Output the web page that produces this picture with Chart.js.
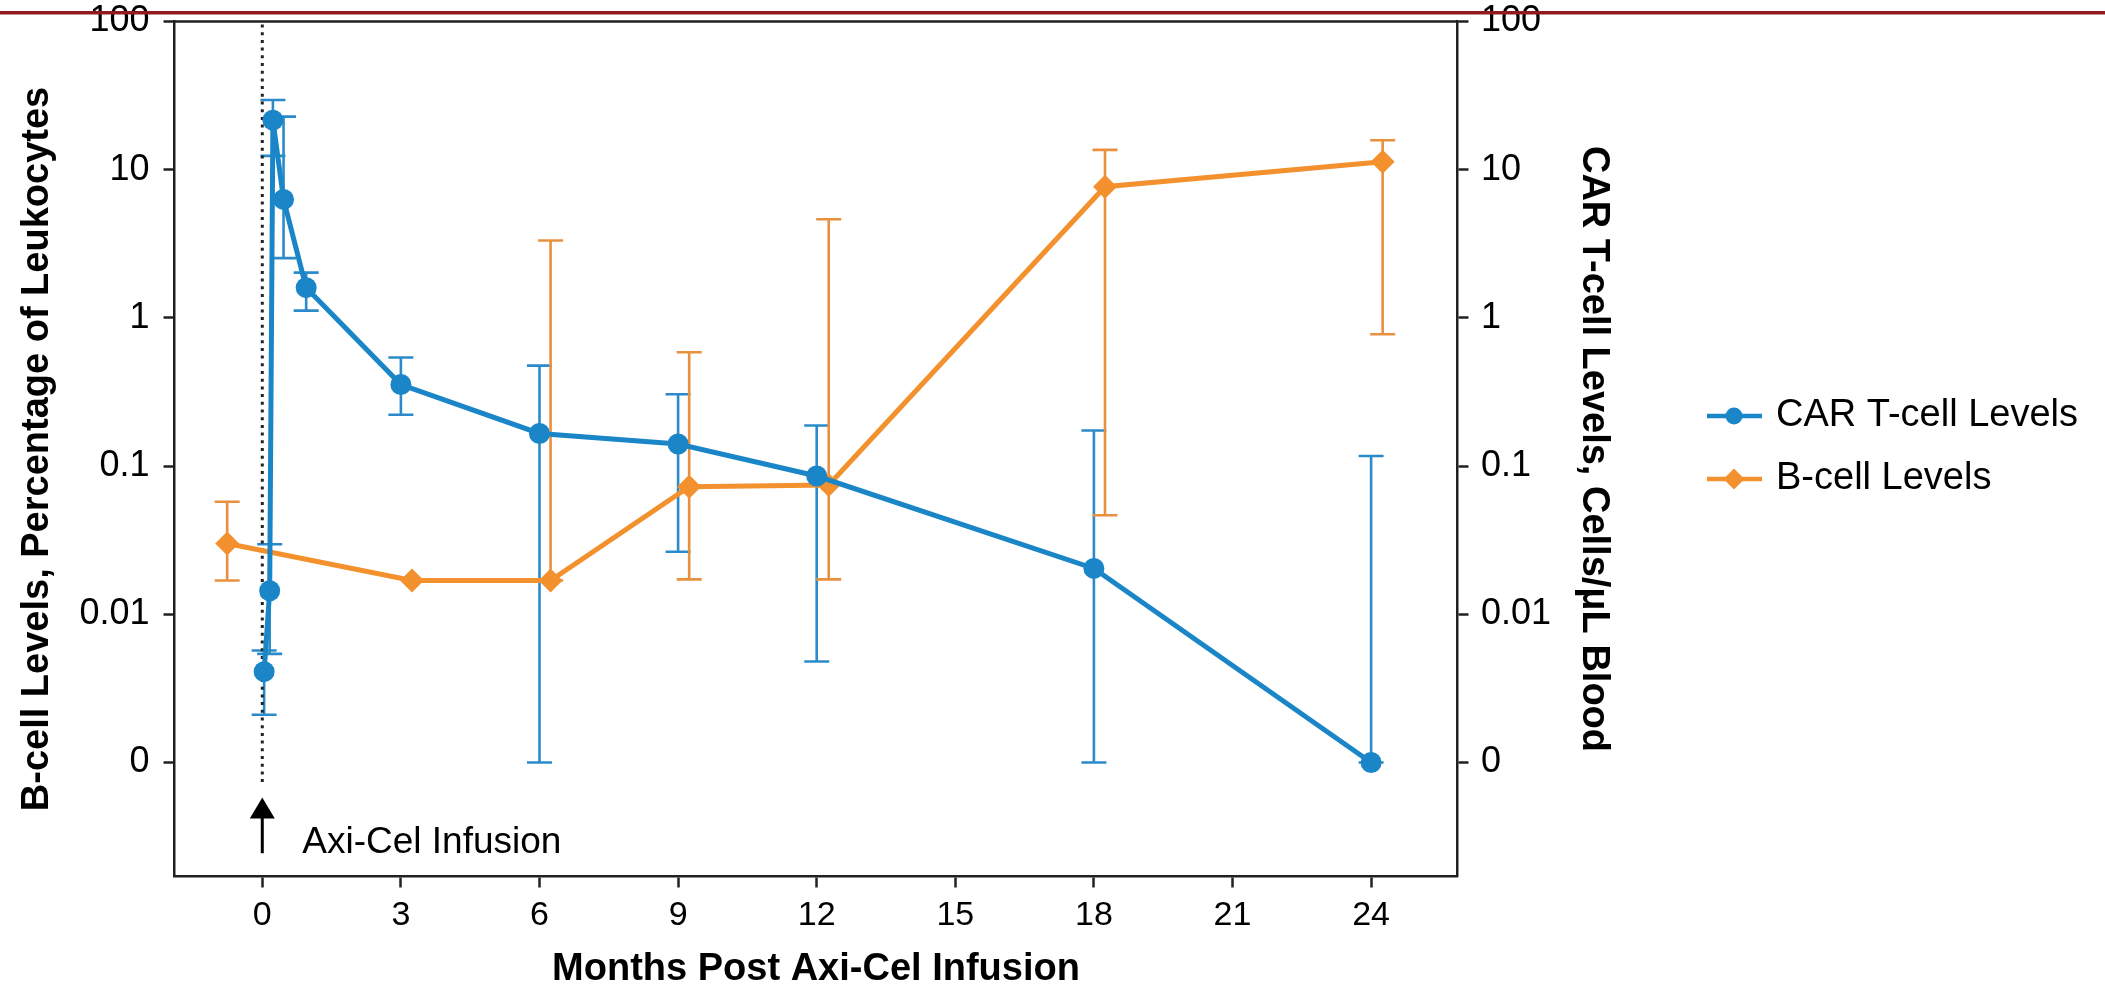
<!DOCTYPE html>
<html>
<head>
<meta charset="utf-8">
<script src="https://cdn.jsdelivr.net/npm/chart.js@4.4.1/dist/chart.umd.min.js"></script>
<style>
  html, body { margin: 0; padding: 0; background: #fff; }
  #wrap { width: 2105px; height: 990px; }
</style>
</head>
<body>
<div id="wrap"><canvas id="chart" width="2105" height="990"></canvas></div>
<script>
// CAR T-cell levels (cells/uL blood), months after infusion; 0.001 is drawn as "0"
const carMonths = [0.04, 0.16, 0.23, 0.46, 0.95, 3, 6, 9, 12, 18, 24];
const carLevels = [0.0041, 0.0144, 21.6, 6.3, 1.6, 0.355, 0.166, 0.141, 0.0857, 0.0204, 0.001];
const carUpper  = [0.0057, 0.0297, 29.5, 22.8, 2.02, 0.54, 0.476, 0.305, 0.188, 0.174, 0.117];
const carLower  = [0.0021, 0.0054, 12.4, 2.53, 1.12, 0.222, 0.001, 0.0264, 0.0048, 0.001, 0.001];

// B-cell levels (percentage of leukocytes)
const bMonths = [-0.76, 3.24, 6.24, 9.24, 12.26, 18.24, 24.25];
const bLevels = [0.030, 0.0169, 0.0169, 0.0726, 0.0745, 7.68, 11.3];
const bUpper  = [0.0575, null, 3.33, 0.586, 4.63, 13.6, 15.8];
const bLower  = [0.0169, null, 0.0169, 0.0172, 0.0172, 0.0466, 0.775];

const monthTicks = [0, 3, 6, 9, 12, 15, 18, 21, 24];
const levelTicks = [0.001, 0.01, 0.1, 1, 10, 100];
const levelTickLabels = ['0', '0.01', '0.1', '1', '10', '100'];

// infusion marker at month 0 (axis units)
const infusionMonth = 0;
const infusionLineEnd = 0.00072;
const arrowTip = 0.00058;
const arrowBase = 0.000244;
const infusionLabel = 'Axi-Cel Infusion';

const FONT = "'Liberation Sans', Arial, Helvetica, sans-serif";
const axisColor = '#231f20';
const carBlue = '#1a86c8';
const bOrange = '#f4912f';

// vertical error bars with caps, drawn under the lines
const errorBars = {
    id: 'errorBars',
    beforeDatasetsDraw(chart) {
        const ctx = chart.ctx;
        const xs = chart.scales.x;
        chart.data.datasets.forEach(ds => {
            const ys = chart.scales[ds.yAxisID];
            ctx.save();
            ctx.strokeStyle = ds.errorColor;
            ctx.lineWidth = 2.6;
            ds.data.forEach((p, j) => {
                const hi = ds.upper[j], lo = ds.lower[j];
                if (hi == null || lo == null) return;
                const px = xs.getPixelForValue(p.x);
                const y1 = ys.getPixelForValue(hi);
                const y2 = ys.getPixelForValue(lo);
                ctx.beginPath();
                ctx.moveTo(px, y1); ctx.lineTo(px, y2);
                ctx.moveTo(px - 12.5, y1); ctx.lineTo(px + 12.5, y1);
                ctx.moveTo(px - 12.5, y2); ctx.lineTo(px + 12.5, y2);
                ctx.stroke();
            });
            ctx.restore();
        });
    }
};

// dotted line, arrow and label for the infusion
const infusionMarker = {
    id: 'infusionMarker',
    beforeDatasetsDraw(chart) {
        const ctx = chart.ctx;
        const xs = chart.scales.x, ys = chart.scales.y;
        const px = xs.getPixelForValue(infusionMonth);
        ctx.save();
        ctx.strokeStyle = '#222';
        ctx.lineWidth = 3;
        ctx.setLineDash([3, 4.7]);
        ctx.beginPath();
        ctx.moveTo(px, chart.chartArea.top + 3);
        ctx.lineTo(px, ys.getPixelForValue(infusionLineEnd));
        ctx.stroke();
        ctx.setLineDash([]);

        const tip = ys.getPixelForValue(arrowTip);
        const base = ys.getPixelForValue(arrowBase);
        ctx.strokeStyle = '#000';
        ctx.fillStyle = '#000';
        ctx.lineWidth = 3;
        ctx.beginPath();
        ctx.moveTo(px, base);
        ctx.lineTo(px, tip + 18);
        ctx.stroke();
        ctx.beginPath();
        ctx.moveTo(px, tip);
        ctx.lineTo(px + 12.5, tip + 21);
        ctx.lineTo(px - 12.5, tip + 21);
        ctx.closePath();
        ctx.fill();

        ctx.font = '37px ' + FONT;
        ctx.textBaseline = 'alphabetic';
        ctx.textAlign = 'left';
        ctx.fillText(infusionLabel, px + 40, base);
        ctx.restore();
    }
};

// top edge of the plot box, legend and the red page rule
const decorations = {
    id: 'decorations',
    afterDraw(chart) {
        const ctx = chart.ctx;
        const a = chart.chartArea;
        ctx.save();
        ctx.strokeStyle = axisColor;
        ctx.lineWidth = 2.5;
        ctx.beginPath();
        ctx.moveTo(a.left - 1, a.top);
        ctx.lineTo(a.right + 1, a.top);
        ctx.stroke();

        chart.data.datasets.forEach((ds, i) => {
            const y = 416 + i * 63;
            ctx.strokeStyle = ds.borderColor;
            ctx.fillStyle = ds.borderColor;
            ctx.lineWidth = 4.5;
            ctx.beginPath();
            ctx.moveTo(1707, y);
            ctx.lineTo(1762, y);
            ctx.stroke();
            Chart.helpers.drawPoint(ctx, {
                pointStyle: ds.pointStyle,
                radius: ds.pointStyle === 'circle' ? 8.5 : 10.5,
                borderWidth: 0
            }, 1734, y);
            ctx.fillStyle = '#000';
            ctx.font = '38px ' + FONT;
            ctx.textBaseline = 'middle';
            ctx.textAlign = 'left';
            ctx.fillText(ds.label, 1776, y);
        });

        ctx.fillStyle = '#8e1b1e';
        ctx.fillRect(0, 11, chart.width, 3.5);
        ctx.restore();
    }
};

function levelLabel(value) {
    const i = levelTicks.indexOf(value);
    return i >= 0 ? levelTickLabels[i] : '';
}

function levelAxis(position, title, width, labelPad, titlePad) {
    return {
        type: 'logarithmic',
        position: position,
        min: 1.70e-4,
        max: 100,
        afterBuildTicks: s => { s.ticks = levelTicks.map(v => ({ value: v })); },
        afterFit: s => {
            s.width = width;
            s.paddingTop = 0;
            s.paddingBottom = 0;
        },
        border: { display: true, color: axisColor, width: 2.5 },
        grid: { drawOnChartArea: false, drawTicks: true, tickLength: 11, tickWidth: 2.5, tickColor: axisColor },
        ticks: {
            color: '#000',
            padding: labelPad,
            autoSkip: false,
            font: { family: FONT, size: 36, lineHeight: 1.2 },
            callback: levelLabel
        },
        title: {
            display: true,
            text: title,
            color: '#000',
            font: { family: FONT, size: 38, weight: 'bold', lineHeight: 1 },
            padding: { top: titlePad, bottom: 0 }
        }
    };
}

const ctx = document.getElementById('chart').getContext('2d');
new Chart(ctx, {
    type: 'line',
    data: {
        datasets: [
            {
                label: 'CAR T-cell Levels',
                data: carMonths.map((m, i) => ({ x: m, y: carLevels[i] })),
                yAxisID: 'y2',
                borderColor: carBlue,
                backgroundColor: carBlue,
                borderWidth: 5,
                pointStyle: 'circle',
                pointRadius: 10.5,
                pointBorderWidth: 0,
                tension: 0,
                upper: carUpper,
                lower: carLower,
                errorColor: '#2b8bca'
            },
            {
                label: 'B-cell Levels',
                data: bMonths.map((m, i) => ({ x: m, y: bLevels[i] })),
                yAxisID: 'y',
                borderColor: bOrange,
                backgroundColor: bOrange,
                borderWidth: 5,
                pointStyle: 'rectRot',
                pointRadius: 12,
                pointBorderWidth: 0,
                tension: 0,
                upper: bUpper,
                lower: bLower,
                errorColor: '#e9903f'
            }
        ]
    },
    options: {
        responsive: false,
        animation: false,
        devicePixelRatio: 1,
        layout: { padding: { left: 0, right: 472.5, top: 21.5, bottom: 0 } },
        plugins: {
            legend: { display: false },
            tooltip: { enabled: false }
        },
        scales: {
            x: {
                type: 'linear',
                min: -1.9,
                max: 25.87,
                afterBuildTicks: s => { s.ticks = monthTicks.map(v => ({ value: v })); },
                afterFit: s => {
                    s.height = 113.5;
                    s.paddingLeft = 0;
                    s.paddingRight = 0;
                },
                border: { display: true, color: axisColor, width: 2.5 },
                grid: { drawOnChartArea: false, drawTicks: true, tickLength: 11, tickWidth: 2.5, tickColor: axisColor },
                ticks: {
                    color: '#000',
                    padding: 8,
                    maxRotation: 0,
                    autoSkip: false,
                    font: { family: FONT, size: 34, lineHeight: 1.2 }
                },
                title: {
                    display: true,
                    text: 'Months Post Axi-Cel Infusion',
                    color: '#000',
                    font: { family: FONT, size: 38, weight: 'bold', lineHeight: 1 },
                    padding: { top: 0, bottom: 1 }
                }
            },
            y: levelAxis('left', 'B-cell Levels, Percentage of Leukocytes', 174.5, 14, 19),
            y2: levelAxis('right', 'CAR T-cell Levels, Cells/μL Blood', 175, 12.5, 20.5)
        }
    },
    plugins: [errorBars, infusionMarker, decorations]
});
</script>
</body>
</html>
